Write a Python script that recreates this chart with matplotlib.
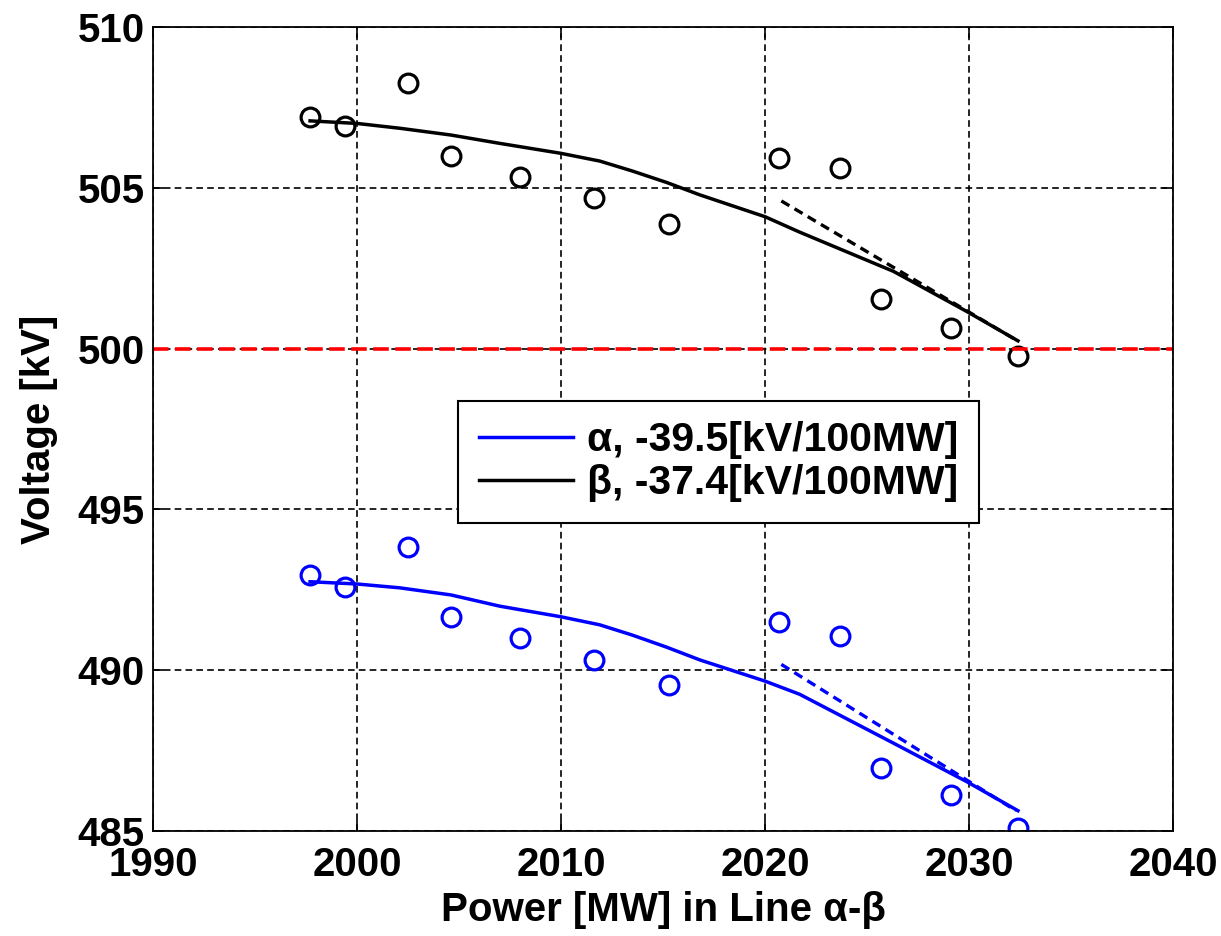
import matplotlib
matplotlib.use("Agg")
import matplotlib.pyplot as plt

# measured points (power in MW, voltage in kV)
power = [1997.7, 1999.4, 2002.5, 2004.6, 2008.0, 2011.6, 2015.3,
         2020.7, 2023.7, 2025.7, 2029.1, 2032.4]
v_beta = [507.21, 506.93, 508.25, 505.99, 505.35, 504.67, 503.87,
          505.92, 505.63, 501.53, 500.65, 499.77]
v_alpha = [492.96, 492.60, 493.84, 491.66, 490.99, 490.32, 489.54,
           491.51, 491.06, 486.97, 486.12, 485.08]

# fitted curves
fit_p = [1997.7, 2000.0, 2002.1, 2004.6, 2007.0, 2010.0, 2011.9, 2013.5,
         2015.2, 2016.8, 2020.0, 2021.7, 2026.3, 2029.9, 2032.4]
fit_beta = [507.08, 507.00, 506.85, 506.64, 506.38, 506.07, 505.83, 505.52,
            505.16, 504.78, 504.10, 503.62, 502.40, 501.15, 500.24]
fit_alpha = [492.75, 492.68, 492.56, 492.34, 491.99, 491.66, 491.41, 491.09,
             490.71, 490.32, 489.66, 489.25, 487.73, 486.53, 485.63]

# tangent (dashed) lines
tan_p = [2020.8, 2032.3]
tan_beta = [504.59, 500.27]
tan_alpha = [490.18, 485.63]

limit_kv = 500

plt.rcParams['font.family'] = ['Liberation Sans', 'DejaVu Sans']
plt.rcParams['font.weight'] = 'bold'

fig = plt.figure(figsize=(12.21, 9.36), dpi=100)
ax = fig.add_axes([0.1253, 0.1122, 0.8354, 0.8590])

ax.plot(fit_p, fit_alpha, color='blue', lw=2.5, label='α, -39.5[kV/100MW]')
ax.plot(fit_p, fit_beta, color='black', lw=2.5, label='β, -37.4[kV/100MW]')
ax.plot(tan_p, tan_alpha, color='blue', lw=2.4, ls=(0, (2.8, 1.8)))
ax.plot(tan_p, tan_beta, color='black', lw=2.4, ls=(0, (2.8, 1.8)))
ax.plot(power, v_alpha, 'o', mfc='none', mec='blue', ms=13.5, mew=2.3)
ax.plot(power, v_beta, 'o', mfc='none', mec='black', ms=13.5, mew=2.3)
ax.axhline(limit_kv, color='red', lw=2.6, ls=(0, (4.3, 1.8)))

ax.set_xlim(1990, 2040)
ax.set_ylim(485, 510)
ax.set_xticks(range(1990, 2041, 10))
ax.set_yticks(range(485, 511, 5))
ax.grid(True, color='black', ls=(0, (4, 2.5)), lw=1.2)
ax.tick_params(direction='in', length=8, width=1.2, top=True, right=True,
               labelsize=29)
ax.tick_params(axis='x', pad=11)
ax.tick_params(axis='y', pad=6)
for s in ax.spines.values():
    s.set_linewidth(1.3)

ax.set_xlabel('Power [MW] in Line α-β', fontsize=29, fontweight='bold', labelpad=5)
ax.set_ylabel('Voltage [kV]', fontsize=29, fontweight='bold', labelpad=14)

leg = ax.legend(loc='center', bbox_to_anchor=(0.5544, 0.459), fontsize=29.5,
                handlelength=2.3, handletextpad=0.35, fancybox=False,
                framealpha=1, edgecolor='black', borderpad=0.5,
                labelspacing=0.12, borderaxespad=0)
leg.get_frame().set_linewidth(1.5)
for t in leg.get_texts():
    t.set_fontweight('bold')

fig.savefig('out.png', dpi=100)
